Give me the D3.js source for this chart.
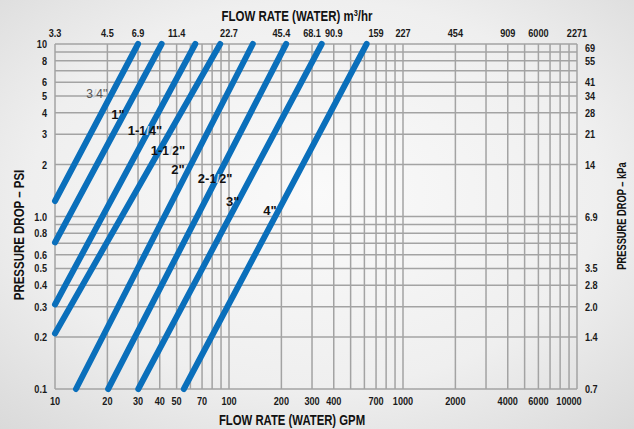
<!DOCTYPE html>
<html><head><meta charset="utf-8">
<script src="https://cdn.jsdelivr.net/npm/d3@7"></script>
<style>
html,body{margin:0;padding:0;overflow:hidden;}
svg{display:block;}
</style></head>
<body>
<script>
// ---- data ----
const sizes      = ['3/4', '1', '1-1/4', '1-1/2', '2', '2-1/2', '3', '4'];
const flowStart  = [10, 10, 10, 10, 13.2, 20.2, 30.1, 55];      // GPM
const psiStart   = [1.23, 0.707, 0.309, 0.21, 0.1, 0.1, 0.1, 0.1];
const flowEnd    = [30, 41, 64, 89, 137, 213, 341, 618];
const psiEnd     = [10, 10, 10, 10, 10, 10, 10, 10];
const labelFlow  = [17.4, 23, 32.9, 44.6, 50.9, 83.2, 105, 172];
const labelPsi   = [5.22, 3.93, 3.17, 2.43, 1.89, 1.67, 1.23, 1.09];

const gpmTicks     = [10, 20, 30, 40, 50, 70, 100, 200, 300, 400, 700, 1000, 2000, 4000, 6000, 10000];
const m3hTickPos   = [10, 20, 30, 50, 100, 200, 300, 400, 700, 1000, 2000, 4000, 6000, 10000];
const m3hTickText  = ['3.3', '4.5', '6.9', '11.4', '22.7', '45.4', '68.1', '90.9', '159', '227', '454', '909', '6000', '2271'];
const psiTicks     = [10, 8, 6, 5, 4, 3, 2, 1, 0.8, 0.6, 0.5, 0.4, 0.3, 0.2, 0.1];
const psiTickText  = ['10', '8', '6', '5', '4', '3', '2', '1.0', '0.8', '0.6', '0.5', '0.4', '0.3', '0.2', '0.1'];
const kpaTickPos   = [10, 8, 6, 5, 4, 3, 2, 1, 0.5, 0.4, 0.3, 0.2, 0.1];
const kpaTickText  = ['69', '55', '41', '34', '28', '21', '14', '6.9', '3.5', '2.8', '2.0', '1.4', '0.7'];

// ---- layout ----
const W = 634, H = 429;
const L = 55, R = 577, T = 44, B = 389;
const SANS = "'Liberation Sans',Arial,sans-serif";

const svg = d3.select('body').append('svg').attr('width', W).attr('height', H);
const defs = svg.append('defs');
const grad = defs.append('radialGradient').attr('id', 'bg').attr('cx', '50%').attr('cy', '45%').attr('r', '75%');
grad.append('stop').attr('offset', '0%').attr('stop-color', '#fafafa');
grad.append('stop').attr('offset', '60%').attr('stop-color', '#efefef');
grad.append('stop').attr('offset', '100%').attr('stop-color', '#d9d9d9');
svg.append('rect').attr('width', W).attr('height', H).attr('fill', 'url(#bg)');

const x = d3.scaleLog().domain([10, 10000]).range([L, R]);
const y = d3.scaleLog().domain([0.1, 10]).range([B, T]);

// grid
const xGrid = [], yGrid = [];
[10, 100, 1000].forEach(d => { for (let k = 1; k <= 9; k++) xGrid.push(k * d); });
xGrid.push(10000);
[0.1, 1].forEach(d => { for (let k = 1; k <= 9; k++) yGrid.push(+(k * d).toFixed(2)); });
yGrid.push(10);

const grid = svg.append('g').attr('stroke', '#a3a3a3').attr('stroke-width', 1.5);
grid.selectAll('.vx').data(xGrid).join('line')
  .attr('x1', d => x(d)).attr('x2', d => x(d)).attr('y1', T).attr('y2', B);
grid.selectAll('.hy').data(yGrid).join('line')
  .attr('x1', L).attr('x2', R).attr('y1', d => y(d)).attr('y2', d => y(d));

// lines
const series = sizes.map((s, i) => ({
  name: s,
  pts: [[flowStart[i], psiStart[i]], [flowEnd[i], psiEnd[i]]],
  lx: labelFlow[i], ly: labelPsi[i]
}));
const line = d3.line().x(d => x(d[0])).y(d => y(d[1]));
svg.append('g').selectAll('path').data(series).join('path')
  .attr('d', d => line(d.pts))
  .attr('fill', 'none').attr('stroke', '#0a6fbb').attr('stroke-width', 6)
  .attr('stroke-linecap', 'round');

// line labels
const lab = svg.append('g').attr('font-family', SANS).attr('text-anchor', 'middle');
series.forEach((s, i) => {
  const t = lab.append('text').attr('x', x(s.lx)).attr('y', y(s.ly) + 5)
    .attr('font-weight', 'bold').attr('font-size', 13).attr('fill', i === 0 ? '#555' : '#111');
  const name = s.name;
  if (name.includes('/')) {
    const dash = name.indexOf('-');
    if (dash >= 0) t.append('tspan').text(name.slice(0, dash + 1) );
    const frac = name.slice(dash + 1).split('/');
    t.append('tspan').attr('font-size', 12).text(frac[0]);
    t.append('tspan').attr('font-size', 12).attr('fill', '#c9d8e6').text('/');
    t.append('tspan').attr('font-size', 12).text(frac[1]);
    t.append('tspan').text('"');
  } else {
    t.text(name + '"');
  }
  if (i === 0) t.attr('font-weight', 'normal').attr('font-size', 12.5);
});

// condensed text helper
function ctext(g, px, py, sx, anchor, txt) {
  return g.append('text').attr('transform', `translate(${px},${py}) scale(${sx},1)`)
    .attr('text-anchor', anchor).text(txt);
}

// tick labels
const tk = svg.append('g').attr('font-family', SANS).attr('font-weight', 'bold')
  .attr('font-size', 10.5).attr('fill', '#1a1a1a');
const SX = 0.87;
gpmTicks.forEach(d => ctext(tk, d === 10000 ? x(d) - 8 : x(d), 405, SX, 'middle', d));
m3hTickPos.forEach((d, i) => ctext(tk, x(d), 37, SX, 'middle', m3hTickText[i]));
psiTicks.forEach((d, i) => ctext(tk, 47, y(d) + 4, SX, 'end', psiTickText[i]));
kpaTickPos.forEach((d, i) => ctext(tk, 585, y(d) + (d === 10 ? 8 : 4), SX, 'start', kpaTickText[i]));

// titles
const tt = svg.append('g').attr('font-family', SANS).attr('font-weight', 'bold')
  .attr('font-size', 14).attr('fill', '#111');
const topTitle = tt.append('text').attr('transform', 'translate(297,21) scale(0.82,1)').attr('text-anchor', 'middle');
topTitle.append('tspan').text('FLOW RATE (WATER) m');
topTitle.append('tspan').attr('font-size', 9).attr('dy', -5).text('3');
topTitle.append('tspan').attr('dy', 5).text('/hr');
ctext(tt, 292, 425, 0.81, 'middle', 'FLOW RATE (WATER) GPM');
tt.append('text').attr('transform', 'translate(24,235) rotate(-90) scale(0.82,1)').attr('text-anchor', 'middle')
  .text('PRESSURE DROP – PSI');
tt.append('text').attr('transform', 'translate(626,216) rotate(-90) scale(0.69,1)').attr('text-anchor', 'middle')
  .attr('font-size', 13.5).text('PRESSURE DROP – kPa');
</script>
</body></html>
